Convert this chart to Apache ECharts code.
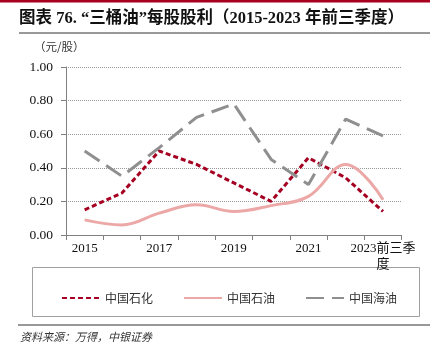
<!DOCTYPE html>
<html><head><meta charset="utf-8">
<script src="https://cdn.jsdelivr.net/npm/echarts@6/dist/echarts.min.js"></script>
<style>html,body{margin:0;padding:0;background:#fff}#c{width:446px;height:357px}</style>
</head><body><div id="c"></div>
<script>
var categories = ['2015','2016','2017','2018','2019','2020','2021','2022','2023前三季度'];
var sinopec = [0.15, 0.25, 0.50, 0.42, 0.31, 0.20, 0.46, 0.34, 0.14];
var petrochina = [0.09, 0.06, 0.13, 0.18, 0.14, 0.175, 0.23, 0.42, 0.21];
var cnooc = [0.50, 0.35, 0.52, 0.70, 0.78, 0.45, 0.30, 0.69, 0.59];
var seriesNames = ['中国石化','中国石油','中国海油'];
var yTicks = {min: 0, max: 1, interval: 0.2};

var serif = '"Liberation Serif","Noto Sans CJK SC",serif';
var chart = echarts.init(document.getElementById('c'), null, {renderer:'canvas'});
chart.setOption({
  animation: false,
  backgroundColor: '#fff',
  grid: {left: 66, right: 44.3, top: 67, bottom: 122},
  graphic: [
    {type:'rect', shape:{x:0,y:0,width:430,height:2.5}, style:{fill:'#A8001E'}},
    {type:'text', left:19, top:10, style:{text:'图表 76. “三桶油”每股股利（2015-2023 年前三季度）', font:'bold 16.5px "Liberation Serif","Noto Sans CJK SC",serif', fill:'#111'}},
    {type:'line', shape:{x1:19,y1:33,x2:430,y2:33}, style:{stroke:'#333', lineWidth:1}},
    {type:'text', left:34, top:41, style:{text:'（元/股）', font:'11.5px "Noto Sans CJK SC",serif', fill:'#333'}},
    {type:'rect', shape:{x:32.5,y:267.5,width:387,height:49}, style:{fill:'none', stroke:'#A0A0A0', lineWidth:1}},
    {type:'line', shape:{x1:18,y1:325,x2:430,y2:325}, style:{stroke:'#333', lineWidth:1}},
    {type:'text', left:20, top:331, style:{text:'资料来源：万得，中银证券', font:'italic 11px "Noto Sans CJK SC",serif', fill:'#333'}}
  ],
  legend: {
    left: 56, top: 287, itemWidth: 38, itemHeight: 10, itemGap: 30,
    itemStyle: {opacity: 0},
    textStyle: {fontSize: 12, color: '#333', fontFamily: '"Noto Sans CJK SC"'},
    data: seriesNames
  },
  xAxis: {
    type: 'category', data: categories, boundaryGap: true,
    axisLine: {lineStyle: {color: '#808080'}},
    axisTick: {show: true, interval: 0, length: 5, lineStyle: {color: '#808080'}},
    axisLabel: {interval: 1, margin: 6, color: '#111', fontSize: 13, fontFamily: serif, lineHeight: 16,
      formatter: function(v){ return v.length > 7 ? v.slice(0,7) + '\n' + v.slice(7) : v; }}
  },
  yAxis: {
    type: 'value', min: yTicks.min, max: yTicks.max, interval: yTicks.interval,
    axisLine: {show: true, lineStyle: {color: '#808080'}},
    axisTick: {show: true, length: 5, inside: false, lineStyle: {color: '#808080'}},
    axisLabel: {margin: 13, color: '#111', fontSize: 13.5, fontFamily: serif, formatter: function(v){return v.toFixed(2);}},
    splitLine: {show: true, lineStyle: {color: '#999', type: 'dotted', width: 1}}
  },
  series: [
    {name: seriesNames[0], type: 'line', data: sinopec, showSymbol: false, symbol:'none', color:'#A50021',
      lineStyle: {color: '#A50021', width: 3, type: [5, 3]}},
    {name: seriesNames[1], type: 'line', data: petrochina, showSymbol: false, symbol:'none', smooth: 0.4, color:'#EBA8A6',
      lineStyle: {color: '#EBA8A6', width: 3}},
    {name: seriesNames[2], type: 'line', data: cnooc, showSymbol: false, symbol:'none', color:'#8F8F8F',
      lineStyle: {color: '#8F8F8F', width: 3, type: [18, 8]}}
  ]
});
</script></body></html>
